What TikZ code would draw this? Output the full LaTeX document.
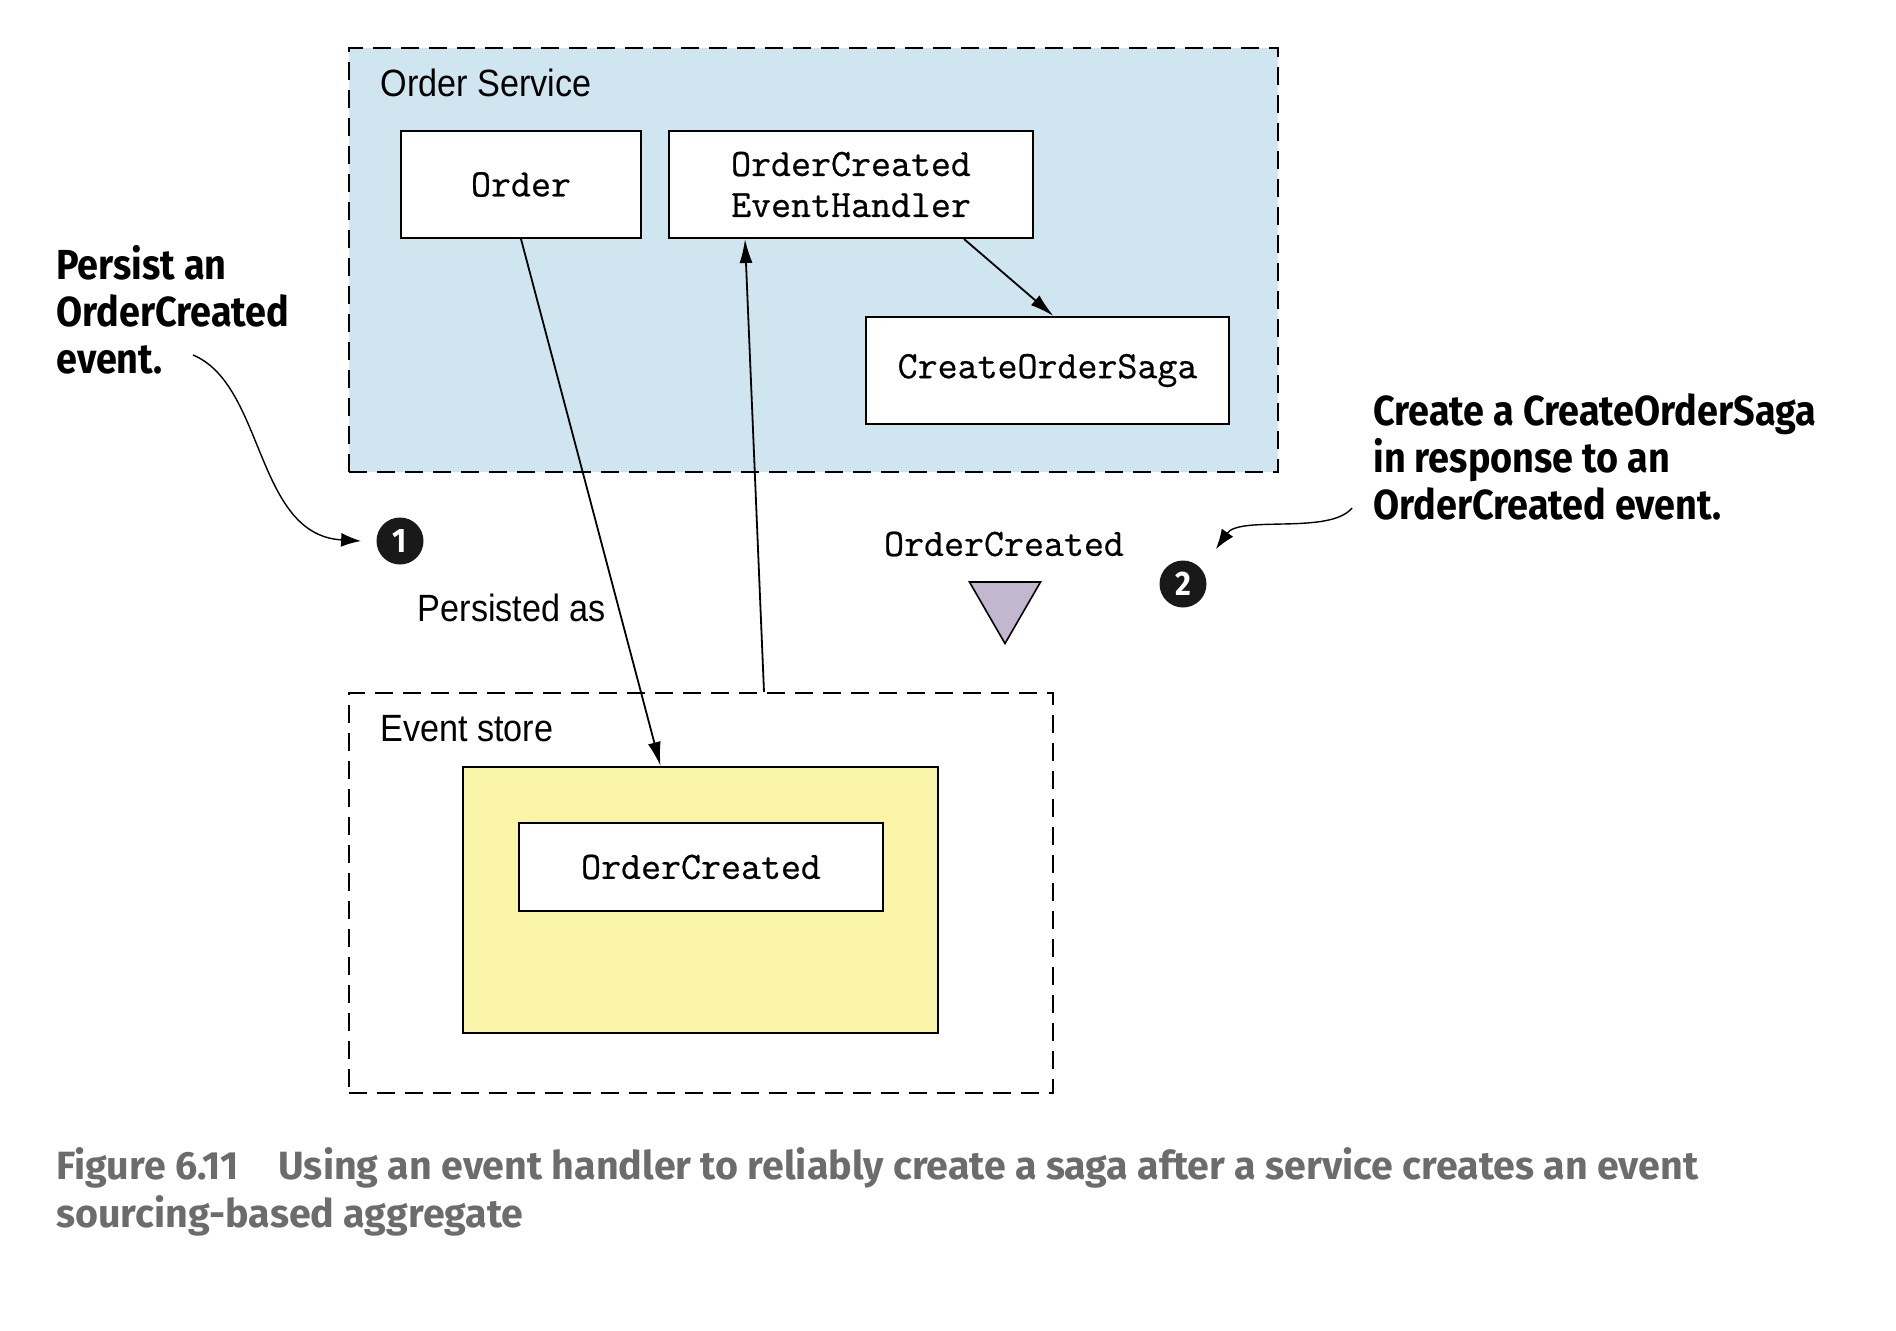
\documentclass[tikz,border=0pt]{standalone}
\usepackage{fontspec}
\setmainfont{Liberation Sans}
\setmonofont[FakeBold=0.6]{Latin Modern Mono}
\newfontfamily\notefont[FakeStretch=0.9]{Fira Sans}
\newfontfamily\capfont{Fira Sans}
\newfontfamily\narrowfont[FakeStretch=0.9]{Liberation Sans}
\usetikzlibrary{shapes.geometric,arrows.meta}
\definecolor{svcblue}{RGB}{207,229,239}
\definecolor{storeyellow}{RGB}{249,244,168}
\definecolor{evtviolet}{RGB}{195,182,207}
\definecolor{capgrey}{RGB}{108,108,108}

\begin{document}
\begin{tikzpicture}[x=0.5pt,y=-0.5pt,every node/.style={inner sep=1pt}]
\tikzstyle{arrow}=[draw,line width=0.9pt,-{Latex[length=12pt,width=6.5pt]}]
\tikzstyle{note arrow}=[draw,line width=0.7pt,-{Latex[length=10pt,width=7pt]}]
\tikzstyle{area}=[draw,dash pattern=on 9pt off 5pt,line width=1.1pt,rectangle,inner sep=0]
\tikzstyle{box}=[draw,fill=white,line width=1pt,rectangle,font=\ttfamily\fontsize{19.4}{20.5}\selectfont,align=center]
\tikzstyle{areatitle}=[font=\narrowfont\fontsize{19}{22}\selectfont,anchor=west]
\tikzstyle{note}=[font=\notefont\bfseries\fontsize{21}{23.5}\selectfont,align=left,anchor=west]
\tikzstyle{num}=[circle,fill=black!90,text=white,minimum size=23.5pt,inner sep=0,font=\notefont\bfseries\fontsize{17}{17}\selectfont]
\useasboundingbox (0,0) rectangle (1896,1330);

\node[area,fill=svcblue,minimum width=464.5pt,minimum height=212pt](service) at (813.5,260){};
\node[areatitle](svctitle) at (378,83){Order Service};
\node[box,minimum width=120pt,minimum height=53.5pt](order) at (521,184.5){Order};
\node[box,minimum width=182pt,minimum height=53.5pt](handler) at (851,184.5){OrderCreated\\EventHandler};
\node[box,minimum width=181.5pt,minimum height=53.5pt](saga) at (1047.5,370.5){CreateOrderSaga};

\node[area,minimum width=352pt,minimum height=200pt](store) at (701,893){};
\node[areatitle](storetitle) at (378,729){Event store};
\node[draw,fill=storeyellow,line width=1pt,minimum width=237.5pt,minimum height=133pt](log) at (700.5,900){};
\node[box,minimum width=182pt,minimum height=44pt](evt) at (701,867){OrderCreated};

\node[font=\ttfamily\fontsize{19.4}{20.5}\selectfont](evtname) at (1004,544){OrderCreated};
\node[regular polygon,regular polygon sides=3,shape border rotate=180,draw,fill=evtviolet,line width=0.8pt,minimum size=41pt,inner sep=0](tri) at (1005,602.5){};
\node[areatitle,anchor=center](persisted) at (512,608){Persisted as};

\node[num](c1) at (400,541){1};
\node[num](c2) at (1183,584){2};

\node[note](note1) at (54,310){Persist an\\OrderCreated\\event.};
\node[note](note2) at (1371,457){Create a CreateOrderSaga\\in response to an\\OrderCreated event.};
\node[font=\capfont\bfseries\fontsize{19.7}{24}\selectfont,text=capgrey,align=left,anchor=west](caption) at (54,1192){Figure 6.11\hspace{20pt}Using an event handler to reliably create a saga after a service creates an event\\sourcing-based aggregate};

\path[arrow](order.south)--([xshift=-20pt]log.north);
\path[arrow]([xshift=31.5pt]store.north)--([xshift=-53pt]handler.south);
\path[arrow]([xshift=56.5pt]handler.south)--([xshift=3pt]saga.north);

\coordinate(n1) at (193,355);
\coordinate(n2) at (1352,508);
\path[note arrow](n1) .. controls (265,385) and (255,535) .. ([xshift=-7.5pt]c1.west);
\path[note arrow](n2) .. controls (1330,535) and (1240,515) .. ([xshift=8pt,yshift=9pt]c2.north east);
\end{tikzpicture}
\end{document}
